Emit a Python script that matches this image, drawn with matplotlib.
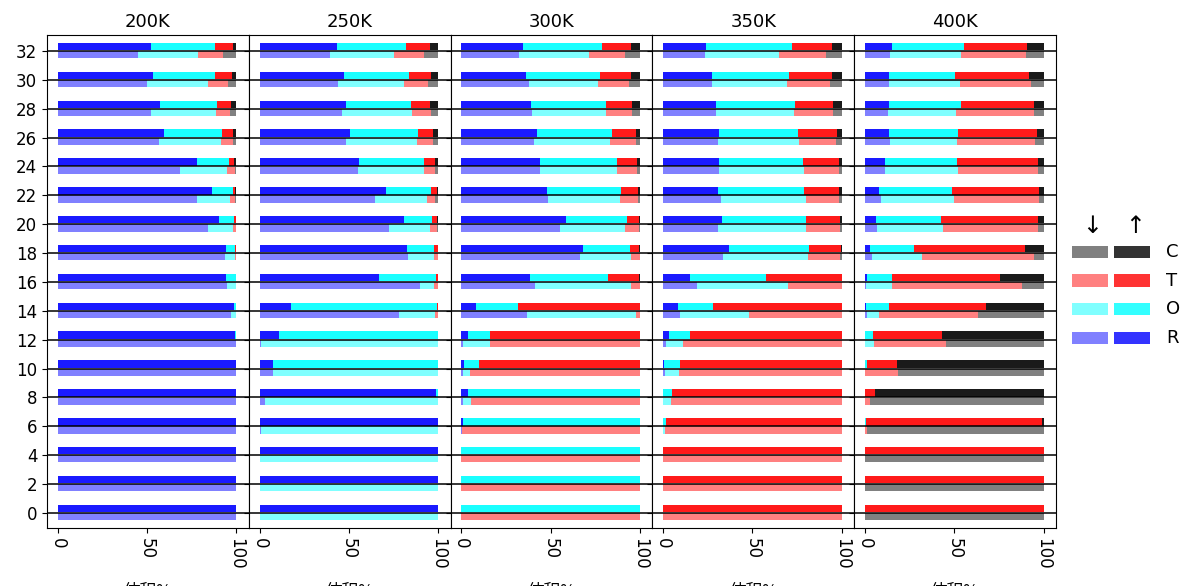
import matplotlib
matplotlib.use("Agg")
import matplotlib.pyplot as plt
from matplotlib.patches import Rectangle
import numpy as np

plt.rcParams['font.family'] = ['DejaVu Sans', 'Noto Sans CJK SC']

temps = ["200K", "250K", "300K", "350K", "400K"]
levels = [0, 2, 4, 6, 8, 10, 12, 14, 16, 18, 20, 22, 24, 26, 28, 30, 32]
phases = ["R", "O", "T", "C"]
xticks = [0, 50, 100]
xlabel = "体积%"

# each row: [R, O, T, C] in %, rows for levels 0..32
up_200 = [[100, 0, 0, 0], [100, 0, 0, 0], [100, 0, 0, 0], [100, 0, 0, 0], [100, 0, 0, 0],
          [100, 0, 0, 0], [99.5, 0.5, 0, 0], [98.7, 1.3, 0, 0], [94, 6, 0, 0],
          [94, 5.2, 0.8, 0], [90.2, 8.5, 1.3, 0], [86.6, 11.7, 1.1, 0.6], [78, 17.9, 2.8, 1.3],
          [59.7, 32.4, 6.2, 1.7], [57.3, 31.8, 7.9, 3], [53.5, 34.4, 9.8, 2.3], [52.4, 35.5, 10.4, 1.7]]
dn_200 = [[100, 0, 0, 0], [100, 0, 0, 0], [100, 0, 0, 0], [100, 0, 0, 0], [100, 0, 0, 0],
          [100, 0, 0, 0], [100, 0, 0, 0], [97, 3, 0, 0], [95, 5, 0, 0],
          [93.4, 5.8, 0.8, 0], [84.2, 14.1, 1.7, 0], [78, 18.4, 3, 0.6], [68.7, 26, 4.3, 1],
          [56.7, 34.8, 6.8, 1.7], [52.4, 36.1, 7.9, 3.6], [49.9, 34.3, 11.1, 4.7], [45, 33.5, 14.3, 7.2]]

up_250 = [[100, 0, 0, 0], [100, 0, 0, 0], [100, 0, 0, 0], [100, 0, 0, 0], [99, 1, 0, 0],
          [7.3, 92.7, 0, 0], [10.7, 89.3, 0, 0], [17.5, 81.9, 0.6, 0], [66.7, 32.2, 1.1, 0],
          [82.5, 15.4, 1.8, 0.3], [80.8, 15.8, 2.5, 0.9], [71, 25, 3.1, 0.9], [55.7, 36.2, 6.6, 1.5],
          [50.7, 38, 8.7, 2.6], [48.4, 36.2, 11.1, 4.3], [47.1, 36.7, 12.4, 3.8], [43.3, 38.8, 13.6, 4.3]]
dn_250 = [[0, 100, 0, 0], [0, 100, 0, 0], [0, 100, 0, 0], [1, 99, 0, 0], [3, 97, 0, 0],
          [7.3, 92.7, 0, 0], [1, 99, 0, 0], [78, 20.3, 1.7, 0], [89.8, 7.9, 2.3, 0],
          [83, 14.9, 2.1, 0], [72.7, 22.8, 3.6, 0.9], [64.8, 29, 4.7, 1.5], [55, 36.9, 6.6, 1.5],
          [48.2, 39.9, 9.3, 2.6], [46.3, 38.8, 11.1, 3.8], [44.1, 36.9, 13.4, 5.6], [39.2, 36.1, 16.6, 8.1]]

up_300 = [[0, 100, 0, 0], [0, 100, 0, 0], [0, 100, 0, 0], [1, 99, 0, 0], [4, 96, 0, 0],
          [1.3, 8.5, 90.2, 0], [3.6, 12.4, 84, 0], [8, 23.8, 68.2, 0], [38.6, 43.5, 17.3, 0.6],
          [68, 26.5, 4.7, 0.8], [58.8, 33.9, 6.5, 0.8], [47.8, 41.8, 9.1, 1.3], [44.3, 42.9, 10.9, 1.9],
          [42.4, 41.8, 13.4, 2.4], [39.2, 42, 14.5, 4.3], [36.3, 41.3, 17.5, 4.9], [34.8, 43.9, 16.4, 4.9]]
dn_300 = [[0, 0, 100, 0], [0, 0, 100, 0], [0, 0, 100, 0], [0.5, 0, 99.5, 0], [0.7, 4.6, 94.7, 0],
          [0.7, 4, 95.3, 0], [0.7, 15.3, 84, 0], [36.9, 61.1, 2, 0], [41.4, 53.6, 5, 0],
          [66.7, 28.4, 4.9, 0], [55.2, 36.3, 8.1, 0.4], [48.4, 40.7, 10, 0.9], [44.3, 42.9, 10.9, 1.9],
          [40.5, 42.9, 14.2, 2.4], [39.7, 41.5, 14.5, 4.3], [38, 38.6, 17.4, 6], [32.4, 38.8, 20.3, 8.5]]

up_350 = [[0, 0, 100, 0], [0, 0, 100, 0], [0, 0, 100, 0], [0, 1.5, 98.5, 0], [0, 5, 95, 0],
          [0.4, 9, 90.6, 0], [3.2, 11.8, 85, 0], [8.3, 19.7, 72, 0], [14.9, 42.9, 42.2, 0],
          [37.1, 44.6, 17.7, 0.6], [32.8, 47.2, 19.2, 0.8], [30.9, 48, 19.4, 1.7], [31.4, 46.8, 20.1, 1.7],
          [31.4, 44.3, 21.5, 2.8], [29.6, 44.2, 21.5, 4.7], [27.1, 43.1, 24.5, 5.3], [23.9, 48.2, 22.6, 5.3]]
dn_350 = [[0, 0, 100, 0], [0, 0, 100, 0], [0, 0, 100, 0], [0, 1, 99, 0], [0, 4.3, 95.7, 0],
          [1, 8, 91, 0], [1.5, 9.5, 89, 0], [9.4, 38.6, 52, 0], [19, 51, 30, 0],
          [33.3, 47.9, 17.8, 1], [30.9, 49.1, 19.2, 0.8], [32.2, 47.8, 18.3, 1.7], [31.4, 47.5, 19.4, 1.7],
          [30.9, 45.4, 20.3, 3.4], [29.6, 43.7, 22, 4.7], [27.1, 42.4, 24.1, 6.4], [23.4, 41.2, 26.4, 9]]

up_400 = [[0, 0, 100, 0], [0, 0, 100, 0], [0, 0, 100, 0], [0, 0.5, 98.9, 0.6], [0, 0, 5.6, 94.4],
          [0, 1, 17, 82], [0.2, 4.5, 38.3, 57], [0.7, 13, 54.3, 32], [1.1, 14.3, 60.3, 24.3],
          [3, 24.7, 61.9, 10.4], [6.2, 36.4, 54.4, 3], [8.1, 40.5, 49.1, 2.3], [11.1, 40.5, 45.4, 3],
          [13.6, 38.6, 44.2, 3.6], [13.6, 39.9, 41, 5.5], [13.6, 36.9, 41.6, 7.9], [15.4, 40, 35.4, 9.2]]
dn_400 = [[0, 0, 0, 100], [0, 0, 0, 100], [0, 0, 0, 100], [0, 0, 0.9, 99.1], [0, 0, 3, 97],
          [0, 0, 18.4, 81.6], [0, 5.2, 40.2, 54.6], [1.3, 6.7, 55.5, 36.5], [0.6, 14.8, 72.6, 12],
          [3.8, 28.2, 62.5, 5.5], [6.8, 36.9, 53.3, 3], [9.2, 40.7, 47.8, 2.3], [11.1, 41.1, 44.8, 3],
          [14.1, 37.5, 43.5, 4.9], [13, 38, 43.5, 5.5], [13.6, 39.7, 39.4, 7.3], [14.1, 39.9, 36.2, 9.8]]

up_data = [up_200, up_250, up_300, up_350, up_400]
dn_data = [dn_200, dn_250, dn_300, dn_350, dn_400]

dark_colors = ["#1a1aff", "#1affff", "#ff1a1a", "#1a1a1a"]
light_colors = ["#8080ff", "#80ffff", "#ff8080", "#808080"]
legend_dark = ["#3333ff", "#33ffff", "#ff3333", "#333333"]

fig, axes = plt.subplots(1, 5, sharey=True, figsize=(11.96, 5.86), dpi=100)
fig.subplots_adjust(left=0.0393, right=0.883, top=0.940, bottom=0.099, wspace=0)

y = np.array(levels, dtype=float)
for ax, t, up, dn in zip(axes, temps, up_data, dn_data):
    up = np.array(up, dtype=float)
    dn = np.array(dn, dtype=float)
    left_u = np.zeros(len(y))
    left_d = np.zeros(len(y))
    for k in range(4):
        ax.barh(y + 0.31, up[:, k], left=left_u, height=0.52, color=dark_colors[k], linewidth=0)
        ax.barh(y - 0.26, dn[:, k], left=left_d, height=0.5, color=light_colors[k], linewidth=0)
        left_u += up[:, k]
        left_d += dn[:, k]
    ax.set_title(t, fontsize=13)
    ax.set_xlim(-6, 107)
    ax.set_ylim(-1.05, 33.1)
    ax.set_xticks(xticks)
    ax.set_xticklabels([str(v) for v in xticks], rotation=-90, fontsize=12)
    ax.set_yticks(levels)
    ax.tick_params(axis='y', labelsize=12)
    ax.grid(axis='y', color='black', linewidth=1.1)
    ax.set_axisbelow(False)
    ax.set_xlabel(xlabel, fontsize=12, labelpad=10,
                  family=['Noto Sans CJK SC', 'DejaVu Sans'])

# legend drawn in figure pixel coordinates
W, H = 1196.0, 586.0
def fx(px):
    return px / W
def fy(py):
    return 1 - py / H

fig.text(fx(1092), fy(226), "↓", fontsize=17, ha='center', va='center')
fig.text(fx(1135), fy(226), "↑", fontsize=17, ha='center', va='center')
rows_y = [252, 280.5, 309, 338]
leg_order = [3, 2, 1, 0]  # C, T, O, R
for ry, k in zip(rows_y, leg_order):
    fig.patches.append(Rectangle((fx(1072), fy(ry + 6.3)), 36 / W, 12.6 / H,
                                 transform=fig.transFigure, facecolor=light_colors[k],
                                 edgecolor='none'))
    fig.patches.append(Rectangle((fx(1113.5), fy(ry + 6.3)), 36 / W, 12.6 / H,
                                 transform=fig.transFigure, facecolor=legend_dark[k],
                                 edgecolor='none'))
    fig.text(fx(1166), fy(ry), phases[k], fontsize=13, ha='left', va='center')

fig.savefig("out.png", dpi=100)
